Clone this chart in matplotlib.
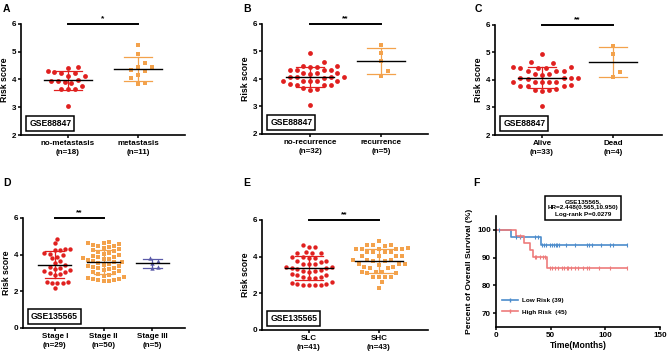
import numpy as np
import matplotlib
matplotlib.use('Agg')
import matplotlib.pyplot as plt
from matplotlib.lines import Line2D

# ------------------------------ data ------------------------------
RED = '#e0201f'
ORANGE = '#f3a24c'
PURPLE = '#5a5aa8'
KM_BLUE = '#4c8ccc'
KM_RED = '#ee7b7b'

# A
a_labels = ['no-metastasis\n(n=18)', 'metastasis\n(n=11)']
a_nomet = [4.45, 4.43, 4.30, 4.27, 4.25, 4.22, 4.13, 4.12, 3.98, 3.95, 3.93,
           3.90, 3.87, 3.77, 3.66, 3.65, 3.64, 3.05]
a_met = [5.25, 4.92, 4.60, 4.45, 4.44, 4.35, 4.32, 4.15, 4.05, 3.87, 3.85]

# B
b_labels = ['no-recurrence\n(n=32)', 'recurrence\n(n=5)']
b_norec = [4.94, 4.62, 4.46, 4.46, 4.45, 4.45, 4.34, 4.33, 4.32, 4.31,
           4.21, 4.20, 4.20, 4.19, 4.07, 4.07, 4.06, 4.06, 4.05, 3.93,
           3.93, 3.92, 3.92, 3.91, 3.80, 3.79, 3.79, 3.78, 3.66, 3.64,
           3.60, 3.05]
b_rec = [5.25, 4.95, 4.65, 4.30, 4.12]

# C
c_labels = ['Alive\n(n=33)', 'Dead\n(n=4)']
c_alive = [4.94, 4.65, 4.60, 4.46, 4.46, 4.45, 4.45, 4.44, 4.34, 4.32, 4.31,
           4.21, 4.20, 4.19, 4.08, 4.07, 4.06, 4.06, 4.05, 3.93, 3.93,
           3.92, 3.91, 3.91, 3.80, 3.79, 3.78, 3.78, 3.66, 3.64, 3.62,
           3.60, 3.05]
c_dead = [5.25, 4.95, 4.30, 4.12]

# D
d_labels = ['Stage I\n(n=29)', 'Stage II\n(n=50)', 'Stage III\n(n=5)']
d_s1 = [4.88, 4.62, 4.32, 4.30, 4.28, 4.25, 4.10, 4.05, 4.00, 3.90, 3.80,
        3.65, 3.55, 3.45, 3.35, 3.25, 3.20, 3.15, 3.10, 3.05, 3.00, 2.95,
        2.90, 2.50, 2.50, 2.48, 2.47, 2.45, 2.20]
d_s2 = [4.70, 4.65, 4.62, 4.60, 4.55, 4.50, 4.45, 4.40, 4.35, 4.30,
        4.25, 4.20, 4.15, 4.10, 4.05, 4.00, 3.95, 3.90, 3.85, 3.80,
        3.78, 3.75, 3.70, 3.65, 3.62, 3.60, 3.55, 3.50, 3.45, 3.40,
        3.38, 3.35, 3.30, 3.25, 3.20, 3.15, 3.10, 3.05, 3.00, 2.95,
        2.90, 2.85, 2.80, 2.75, 2.70, 2.65, 2.62, 2.60, 2.58, 2.55]
d_s3 = [3.80, 3.65, 3.55, 3.35, 3.25]

# E
e_labels = ['SLC\n(n=41)', 'SHC\n(n=43)']
e_slc = [4.63, 4.55, 4.52, 4.25, 4.22, 4.20, 4.18, 4.00, 3.98, 3.95, 3.93,
         3.78, 3.75, 3.72, 3.62, 3.60, 3.58, 3.45, 3.42, 3.40, 3.38, 3.35,
         3.25, 3.22, 3.20, 3.18, 3.05, 3.02, 3.00, 2.90, 2.88, 2.85, 2.82,
         2.62, 2.55, 2.52, 2.50, 2.48, 2.47, 2.45, 2.44]
e_shc = [4.85, 4.65, 4.63, 4.62, 4.60, 4.45, 4.44, 4.43, 4.42, 4.41, 4.40,
         4.27, 4.26, 4.25, 4.24, 4.05, 4.04, 4.03, 4.02, 3.82, 3.81, 3.80,
         3.79, 3.78, 3.60, 3.59, 3.58, 3.57, 3.42, 3.41, 3.40, 3.39, 3.15,
         3.14, 3.13, 3.12, 2.90, 2.89, 2.88, 2.87, 2.60, 2.30, 3.16]

# F  (Kaplan-Meier steps)
low_t = [0, 14, 41, 120]
low_s = [100, 97.4, 94.6, 94.6]
low_cens = [3, 18, 22, 36, 38, 42, 44, 46, 49, 51, 53, 55, 56, 58, 64, 72,
            83, 85, 88, 96, 104, 107, 120]
high_t = [0, 18, 26, 31, 34, 47, 120]
high_s = [100, 97.7, 95.2, 92.6, 90.2, 86.1, 86.1]
high_cens = [22, 36, 37, 40, 43, 45, 49, 51, 54, 57, 60, 62, 65, 66, 69, 72,
             75, 80, 83, 85, 94, 104, 120]

FIG_W, FIG_H = 669, 355
plt.rcParams['font.family'] = ['Liberation Sans', 'DejaVu Sans']
plt.rcParams['font.weight'] = 'bold'
plt.rcParams['axes.labelweight'] = 'bold'

fig = plt.figure(figsize=(FIG_W / 100, FIG_H / 100), dpi=100)


def add_axes(left, right, top, bottom):
    return fig.add_axes([left / FIG_W, 1 - bottom / FIG_H,
                         (right - left) / FIG_W, (bottom - top) / FIG_H])


def style(ax):
    for s in ['top', 'right']:
        ax.spines[s].set_visible(False)
    for s in ['left', 'bottom']:
        ax.spines[s].set_linewidth(1.2)
    ax.tick_params(direction='out', length=2.5, width=1.1, labelsize=5.8, pad=1.2)
    for lab in ax.get_xticklabels() + ax.get_yticklabels():
        lab.set_fontweight('bold')


def swarm_x(ax, vals, xc, d_px):
    pos = ax.get_position()
    w_px = pos.width * FIG_W
    h_px = pos.height * FIG_H
    x0, x1 = ax.get_xlim()
    y0, y1 = ax.get_ylim()
    vals = np.asarray(vals, float)
    ypx = (vals - y0) / (y1 - y0) * h_px
    order = np.argsort(ypx)
    placed = []
    xoff = np.zeros(len(vals))
    for i in order:
        y = ypx[i]
        best = None
        for k in range(0, 60):
            for sgn in ([1] if k == 0 else [1, -1]):
                off = sgn * k * d_px * 0.5
                ok = all((off - px) ** 2 + (y - py) ** 2 >= d_px ** 2 * 0.95
                         for px, py in placed)
                if ok:
                    best = off
                    break
            if best is not None:
                break
        placed.append((best, y))
        xoff[i] = best
    return xc + xoff * (x1 - x0) / w_px


def dotplot(ax, groups, markers, colors, labels, ylim, yticks, d_px=6.8, ms=12):
    ax.set_ylim(*ylim)
    ax.set_yticks(yticks)
    ax.set_xticks(range(len(groups)))
    ax.set_xticklabels(labels, linespacing=1.35)
    for i, (g, m, c) in enumerate(zip(groups, markers, colors)):
        xs = swarm_x(ax, g, i, d_px)
        ax.scatter(xs, g, s=ms, marker=m, color=c, linewidths=0, zorder=3,
                   clip_on=False)
        mu = np.mean(g)
        sd = np.std(g, ddof=1)
        ax.plot([i - 0.34, i + 0.34], [mu, mu], color='black', lw=1.0, zorder=4)
        ax.plot([i, i], [mu - sd, mu + sd], color=c, lw=0.9, zorder=2)
        for yy in (mu - sd, mu + sd):
            ax.plot([i - 0.2, i + 0.2], [yy, yy], color=c, lw=0.9, zorder=2)
    ax.set_ylabel('Risk score', fontsize=6.3, fontweight='bold', labelpad=1.5)
    style(ax)


def sig(ax, x0, x1, y, txt):
    ax.plot([x0, x1], [y, y], color='black', lw=1.4, clip_on=False)
    ax.text((x0 + x1) / 2, y + 0.02 * (ax.get_ylim()[1] - ax.get_ylim()[0]),
            txt, ha='center', va='bottom', fontsize=6, fontweight='bold')


def gse(ax, txt):
    ax.text(0.05, 0.06, txt, transform=ax.transAxes, fontsize=6.2,
            fontweight='bold', va='bottom', ha='left',
            bbox=dict(boxstyle='square,pad=0.35', fc='white', ec='black', lw=1.1))


# A
axA = add_axes(21, 185, 24, 135)
axA.set_xlim(-0.67, 1.67)
dotplot(axA, [a_nomet, a_met], ['o', 's'], [RED, ORANGE], a_labels,
        (2, 6), [2, 3, 4, 5, 6])
sig(axA, 0, 1, 6, '*')
gse(axA, 'GSE88847')

# B
axB = add_axes(262, 428, 24, 134)
axB.set_xlim(-0.68, 1.66)
dotplot(axB, [b_norec, b_rec], ['o', 's'], [RED, ORANGE], b_labels,
        (2, 6), [2, 3, 4, 5, 6])
sig(axB, 0, 1, 6, '**')
gse(axB, 'GSE88847')

# C
axC = add_axes(495, 662, 25, 135)
axC.set_xlim(-0.66, 1.69)
dotplot(axC, [c_alive, c_dead], ['o', 's'], [RED, ORANGE], c_labels,
        (2, 6), [2, 3, 4, 5, 6], d_px=7.2)
sig(axC, 0, 1, 6, '**')
gse(axC, 'GSE88847')

# D
axD = add_axes(23, 185, 218, 328)
axD.set_xlim(-0.65, 2.67)
dotplot(axD, [d_s1, d_s2, d_s3], ['o', 's', '^'], [RED, ORANGE, PURPLE],
        d_labels, (0, 6), [0, 2, 4, 6], d_px=5.2, ms=10)
sig(axD, 0, 1, 6, '**')
gse(axD, 'GSE135565')

# E
axE = add_axes(262, 428, 220, 330)
axE.set_xlim(-0.67, 1.70)
dotplot(axE, [e_slc, e_shc], ['o', 's'], [RED, ORANGE], e_labels,
        (0, 6), [0, 2, 4, 6], d_px=5.8, ms=10)
sig(axE, 0, 1, 6, '**')
gse(axE, 'GSE135565')

# F
axF = add_axes(496, 660, 216, 327)
axF.set_xlim(0, 150)
axF.set_ylim(65, 105)
axF.set_xticks([0, 50, 100, 150])
axF.set_yticks([70, 80, 90, 100])
axF.step(low_t, low_s, where='post', color=KM_BLUE, lw=1.2)
axF.step(high_t, high_s, where='post', color=KM_RED, lw=1.2)


def surv_at(ts, times, surv):
    idx = np.searchsorted(times, ts, side='right') - 1
    return np.asarray(surv)[idx]


axF.plot(low_cens, surv_at(low_cens, low_t, low_s), linestyle='none',
         marker='|', ms=3.5, mew=0.8, color=KM_BLUE)
axF.plot(high_cens, surv_at(high_cens, high_t, high_s), linestyle='none',
         marker='|', ms=3.5, mew=0.8, color=KM_RED)
axF.set_xlabel('Time(Months)', fontsize=6.2, fontweight='bold', labelpad=1)
axF.set_ylabel('Percent of Overall Survival (%)', fontsize=6.1,
               fontweight='bold', labelpad=3)
style(axF)
handles = [Line2D([], [], color=KM_BLUE, lw=1.2, marker='|', ms=3.5),
           Line2D([], [], color=KM_RED, lw=1.2, marker='|', ms=3.5)]
axF.legend(handles, ['Low Risk (39)', 'High Risk  (45)'], loc='lower left',
           bbox_to_anchor=(0.0, 0.06), frameon=False,
           handlelength=2.6, labelspacing=0.9, handletextpad=0.6,
           prop={'weight': 'bold', 'size': 4.6})
fig.text(583 / FIG_W, 1 - 208 / FIG_H,
         'GSE135565,\nHR=2.448(0.565,10.950)\nLog-rank P=0.0279',
         ha='center', va='center', fontsize=4.6, fontweight='bold',
         linespacing=1.35,
         bbox=dict(boxstyle='square,pad=0.45', fc='white', ec='black', lw=1.1))

# panel letters
for letter, x, y in [('A', 3, 9), ('B', 243, 9), ('C', 475, 9),
                     ('D', 3, 183), ('E', 243, 183), ('F', 473, 183)]:
    fig.text(x / FIG_W, 1 - y / FIG_H, letter, fontsize=7.5, fontweight='bold',
             va='center', ha='left')

fig.savefig('out.png', dpi=100)
